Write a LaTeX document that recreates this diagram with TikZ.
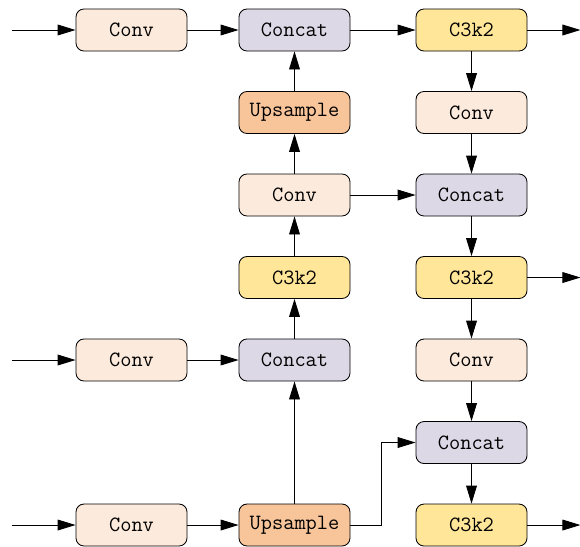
\documentclass[tikz,border=0pt]{standalone}
\usepackage{xcolor}
\usepackage{tikz}
\usetikzlibrary{positioning,arrows.meta}

\definecolor{convc}{HTML}{FCEADC}
\definecolor{catc}{HTML}{DDD8E6}
\definecolor{c3c}{HTML}{FFE699}
\definecolor{upc}{HTML}{F8C49A}

\begin{document}
\begin{tikzpicture}[node distance=0.9915cm and 1.279cm,
  box/.style={draw=black, line width=0.6pt, rounded corners=0.2cm, align=center, minimum width=2.775cm, minimum height=1.05cm, font=\ttfamily\fontsize{15.5}{18}\selectfont},
  conv/.style={box, fill=convc},
  concat/.style={box, fill=catc},
  cthree/.style={box, fill=c3c},
  upsample/.style={box, fill=upc},
  >={Triangle[length=0.45cm,width=0.27cm]}, line width=0.6pt]
\useasboundingbox (0,0) rectangle (14.5,-13.65);
% left column
\node[conv] (conva) at (3.2875,-0.75) {Conv};
\node[conv] (convb) [below=7.179cm of conva] {Conv};
\node[conv] (convc) [below=3.054cm of convb] {Conv};
% middle column
\node[concat] (cata) [right=of conva] {Concat};
\node[upsample] (upa) [below=of cata] {Upsample};
\node[conv] (convm) [below=of upa] {Conv};
\node[cthree] (c3m) [below=of convm] {C3k2};
\node[concat] (catb) [right=of convb] {Concat};
\node[upsample] (upb) [right=of convc] {Upsample};
% right column
\node[cthree] (c3a) [right=1.629cm of cata] {C3k2};
\node[conv] (convd) [below=of c3a] {Conv};
\node[concat] (catc) [below=of convd] {Concat};
\node[cthree] (c3b) [below=of catc] {C3k2};
\node[conv] (conve) [below=of c3b] {Conv};
\node[concat] (catd) [below=of conve] {Concat};
\node[cthree] (c3c) [below=of catd] {C3k2};
% free ends
\coordinate[left=1.6cm of conva] (ina);
\coordinate[left=1.6cm of convb] (inb);
\coordinate[left=1.6cm of convc] (inc);
\coordinate[right=1.325cm of c3a] (outa);
\coordinate[right=1.325cm of c3b] (outb);
\coordinate[right=1.325cm of c3c] (outc);
\foreach \i/\j in {ina/conva,inb/convb,inc/convc,conva/cata,convb/catb,convc/upb,upa/cata,convm/upa,c3m/convm,catb/c3m,upb/catb,cata/c3a,c3a/convd,convd/catc,catc/c3b,c3b/conve,conve/catd,catd/c3c,convm/catc,c3a/outa,c3b/outb,c3c/outc}{\draw[->] (\i) -- (\j);}
\draw[->] (upb.east) -- ++(0.775,0) |- (catd.west);
\end{tikzpicture}
\end{document}
